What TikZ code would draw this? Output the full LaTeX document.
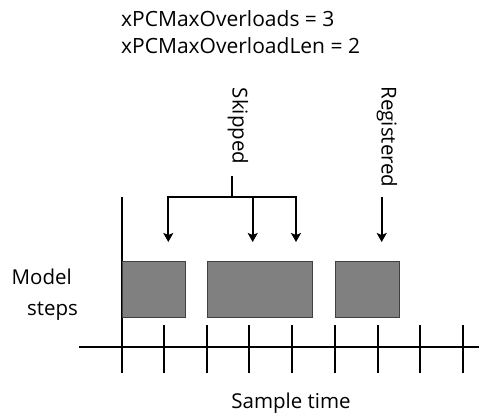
\documentclass[tikz,border=0pt]{standalone}
\usepackage{fontspec}
\setmainfont{Open Sans}
\usetikzlibrary{arrows.meta}
\begin{document}
\begin{tikzpicture}[x=1pt,y=-1pt,
  txt/.style={inner sep=0pt,font=\fontsize{20.5}{24}\selectfont},
  head/.style={txt,font=\fontsize{21}{24}\selectfont},
  stepbox/.style={draw=black!75,line width=0.9pt,fill=black!50,inner sep=0pt},
  axis/.style={line width=1.9pt},
  tick/.style={line width=1.9pt},
  arr/.style={line width=1.9pt,-{Stealth[length=9pt,width=10pt,inset=2pt]}},
  brk/.style={line width=1.9pt}]
\useasboundingbox (0,0) rectangle (479,414);
% header
\node[head,anchor=base west] (l1) at (121,26.7) {xPCMaxOverloads = 3};
\node[head,anchor=base west] (l2) at (121,53.5) {xPCMaxOverloadLen = 2};
% axes
\coordinate (xa) at (79,347);
\coordinate (xb) at (479,347);
\coordinate (ya) at (121.7,197);
\coordinate (yb) at (121.7,373);
\draw[axis] (xa) -- (xb);
\draw[axis] (ya) -- (yb);
\foreach \i/\x in {1/163.7,2/206.7,3/249.3,4/292.3,5/334.7,6/377.7,7/420,8/462.7}{
  \coordinate (t\i a) at (\x,325);
  \coordinate (t\i b) at (\x,373);
  \draw[tick] (t\i a) -- (t\i b);
}
% boxes
\node[stepbox,minimum width=63.6pt,minimum height=55.7pt,anchor=north west] (b1) at (121.7,261) {};
\node[stepbox,minimum width=105.3pt,minimum height=55.7pt,anchor=north west] (b2) at (206.7,261) {};
\node[stepbox,minimum width=64.6pt,minimum height=55.7pt,anchor=north west] (b3) at (334.7,261) {};
% labels
\node[txt,anchor=base] (m1) at (41.7,284.5) {Model};
\node[txt,anchor=base] (m2) at (52.5,315) {steps};
\node[txt,anchor=base] (st) at (291,408) {Sample time};
\node[txt,rotate=-90] (sk) at (238,126) {Skipped};
\node[txt,rotate=-90] (rg) at (387,137) {Registered};
% bracket
\coordinate (s0) at (231.7,176);
\coordinate (s1) at (231.7,196.7);
\coordinate (p1) at (168.3,196.7);
\coordinate (p2) at (252.7,196.7);
\coordinate (p3) at (296,196.7);
\coordinate (q1) at (168.3,242);
\coordinate (q2) at (252.7,242);
\coordinate (q3) at (296,242);
\draw[brk] (s0) -- (s1);
\draw[brk,line cap=rect] (p1) -- (p3);
\draw[arr] (p1) -- (q1);
\draw[arr] (p2) -- (q2);
\draw[arr] (p3) -- (q3);
\coordinate (r0) at (381.7,196.7);
\coordinate (r1) at (381.7,242);
\draw[arr] (r0) -- (r1);
\end{tikzpicture}
\end{document}
